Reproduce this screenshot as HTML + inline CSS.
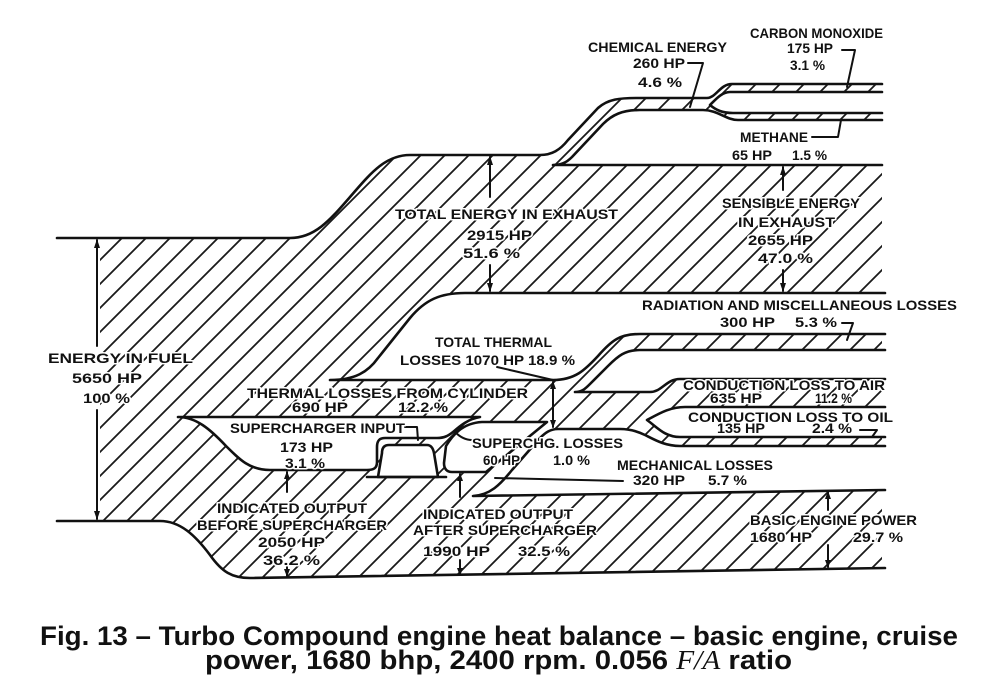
<!DOCTYPE html>
<html><head><meta charset="utf-8"><style>
html,body{margin:0;padding:0;background:#fff;}
svg{display:block;}
.t{font-family:"Liberation Sans",sans-serif;font-weight:bold;font-size:14px;fill:#111;stroke:#fff;stroke-width:3px;paint-order:stroke;stroke-linejoin:round;}
.c{font-family:"Liberation Sans",sans-serif;font-weight:bold;font-size:27px;fill:#111;}
.o{fill:none;stroke:#111;stroke-width:2.6;stroke-linejoin:round;stroke-linecap:round;}
.h{fill:#fff;stroke:#111;stroke-width:2.6;stroke-linejoin:round;stroke-linecap:round;}
.l{fill:none;stroke:#111;stroke-width:2;stroke-linecap:round;stroke-linejoin:round;}
.a{fill:#111;stroke:none;}
</style></head><body>
<svg width="1000" height="690" viewBox="0 0 1000 690" xmlns="http://www.w3.org/2000/svg">
<defs>
<pattern id="hatch" patternUnits="userSpaceOnUse" width="24" height="24">
<path d="M-6,6 L6,-6 M0,24 L24,0 M18,30 L30,18" stroke="#1a1a1a" stroke-width="1.8" fill="none"/>
</pattern>
</defs>
<rect width="1000" height="690" fill="#fff"/>

<!-- main hatched flow -->
<path fill="url(#hatch)" d="M100,238 L290,238 C315,238 330,220 350,197 C370,174 385,155 410,155 L540,155 C552,155 560,150 568,140 L598,108 C608,99 620,98 637,98 L707,98 C716,98 720,84 732,84 L882,84 L882,568 L250,578 C232,578 222,572 210,555 C195,535 180,521 160,521 L100,521 Z"/>

<!-- outer outlines -->
<path class="o" d="M57,238 L290,238 C315,238 330,220 350,197 C370,174 385,155 410,155 L540,155 C552,155 560,150 568,140 L598,108 C608,99 620,98 637,98 L707,98 C716,98 720,84 732,84 L882,84"/>
<path class="o" d="M57,521 L160,521 C180,521 195,535 210,555 C222,572 232,578 250,578 L885,568"/>

<!-- holes -->
<path class="h" d="M882,92 L730,92 C722,92 716,99 710,105 C716,110 722,113 733,113 L882,113"/>
<path class="h" d="M882,120 L738,120 C726,120 718,110 703,110 L640,110 C622,110 612,115 603,124 L572,157 C566,163 561,165 553,165 L882,165"/>
<path class="h" d="M885,293 L465,293 C440,293 425,300 410,318 L378,358 C368,372 355,380 330,380 L553,380 C575,380 585,370 598,356 C612,340 620,334 640,334 L885,334"/>
<path class="h" d="M885,350 L640,350 C625,350 618,356 608,366 L590,384 C585,389 582,392 575,392 L650,392 C662,392 666,379 680,379 L885,379"/>
<path class="h" d="M885,407 L685,407 C670,407 660,413 647,420 C658,428 665,437 680,437 L885,437"/>
<path class="h" d="M885,446 L680,446 C665,446 655,440 645,435 C637,431 630,429 620,429 L558,429 C550,429 545,433 540,438 L512,470 C500,485 490,495 473,496 L885,490"/>
<path class="h" d="M178,417 L480,417 C468,419 460,426 453,432 C448,436 444,438 437,438 L385,438 C379,438 377,441 377,447 L377,462 C377,468 374,470 367,470 L270,470 C250,470 240,460 226,446 C210,429 196,417 178,417 Z"/>
<path class="h" d="M446,446 C452,436 462,423 482,422 L547,422 L486,472 L452,472 C447,472 444,469 444,463 Z"/>
<path class="h" d="M378,477 L382,453 C382,448 384,445 389,445 L427,445 C431,445 433,448 434,453 L438,477 Z"/>
<path class="o" d="M367,477 L446,477"/>

<!-- dimension arrows -->
<g class="l">
<path d="M97,240 V346 M97,410 V519"/>
<path d="M490,157 V197 M490,265 V291"/>
<path d="M783,167 V190 M783,270 V291"/>
<path d="M553,382 V427"/>
<path d="M287,472 V492 M287,565 V576"/>
<path d="M460,474 V497 M460,560 V575"/>
<path d="M828,492 V510 M828,545 V567"/>
</g>
<g class="a">
<polygon points="97,239 94,248 100,248"/><polygon points="97,520 94,511 100,511"/>
<polygon points="490,156 487,165 493,165"/><polygon points="490,292 487,283 493,283"/>
<polygon points="783,166 780,175 786,175"/><polygon points="783,292 780,283 786,283"/>
<polygon points="553,381 550,389 556,389"/><polygon points="553,428 550,420 556,420"/>
<polygon points="287,471 284,479 290,479"/><polygon points="287,577 284,569 290,569"/>
<polygon points="460,473 457,481 463,481"/><polygon points="460,576 457,568 463,568"/>
<polygon points="828,491 825,499 831,499"/><polygon points="828,568 825,560 831,560"/>
</g>

<!-- leaders -->
<g class="l">
<path d="M842,50 L855,50 L847,87"/>
<path d="M688,63 L703,63 L690,107"/>
<path d="M812,137 L838,137 L841,120"/>
<path d="M842,323 L853,323 L847,340"/>
<path d="M497,367 L553,380"/>
<path d="M405,427 L417,427 L418,440"/>
<path d="M472,440 C465,440 460,437 455,432"/>
<path d="M495,478 L623,481"/>
<path d="M860,430 L877,430 L872,437"/>
</g>

<!-- labels -->
<g class="t">
<text x="750" y="38" textLength="133" lengthAdjust="spacingAndGlyphs">CARBON MONOXIDE</text>
<text x="787" y="53" textLength="46" lengthAdjust="spacingAndGlyphs">175 HP</text>
<text x="790" y="70" textLength="35" lengthAdjust="spacingAndGlyphs">3.1 %</text>
<text x="588" y="52" textLength="139" lengthAdjust="spacingAndGlyphs">CHEMICAL ENERGY</text>
<text x="633" y="68" textLength="52" lengthAdjust="spacingAndGlyphs">260 HP</text>
<text x="638" y="87" textLength="44" lengthAdjust="spacingAndGlyphs">4.6 %</text>
<text x="740" y="142" textLength="68" lengthAdjust="spacingAndGlyphs">METHANE</text>
<text x="732" y="160" textLength="40" lengthAdjust="spacingAndGlyphs">65 HP</text>
<text x="792" y="160" textLength="35" lengthAdjust="spacingAndGlyphs">1.5 %</text>
<text x="395" y="219" textLength="223" lengthAdjust="spacingAndGlyphs">TOTAL ENERGY IN EXHAUST</text>
<text x="467" y="240" textLength="65" lengthAdjust="spacingAndGlyphs">2915 HP</text>
<text x="463" y="258" textLength="57" lengthAdjust="spacingAndGlyphs">51.6 %</text>
<text x="722" y="208" textLength="138" lengthAdjust="spacingAndGlyphs">SENSIBLE ENERGY</text>
<text x="738" y="227" textLength="97" lengthAdjust="spacingAndGlyphs">IN EXHAUST</text>
<text x="748" y="245" textLength="65" lengthAdjust="spacingAndGlyphs">2655 HP</text>
<text x="758" y="263" textLength="55" lengthAdjust="spacingAndGlyphs">47.0 %</text>
<text x="642" y="310" textLength="315" lengthAdjust="spacingAndGlyphs">RADIATION AND MISCELLANEOUS LOSSES</text>
<text x="720" y="327" textLength="55" lengthAdjust="spacingAndGlyphs">300 HP</text>
<text x="795" y="327" textLength="42" lengthAdjust="spacingAndGlyphs">5.3 %</text>
<text x="435" y="347" textLength="117" lengthAdjust="spacingAndGlyphs">TOTAL THERMAL</text>
<text x="400" y="365" textLength="175" lengthAdjust="spacingAndGlyphs">LOSSES 1070 HP 18.9 %</text>
<text x="247" y="398" textLength="281" lengthAdjust="spacingAndGlyphs">THERMAL LOSSES FROM CYLINDER</text>
<text x="292" y="412" textLength="56" lengthAdjust="spacingAndGlyphs">690 HP</text>
<text x="398" y="412" textLength="50" lengthAdjust="spacingAndGlyphs">12.2 %</text>
<text x="230" y="433" textLength="175" lengthAdjust="spacingAndGlyphs">SUPERCHARGER INPUT</text>
<text x="280" y="452" textLength="53" lengthAdjust="spacingAndGlyphs">173 HP</text>
<text x="285" y="468" textLength="40" lengthAdjust="spacingAndGlyphs">3.1 %</text>
<text x="472" y="448" textLength="151" lengthAdjust="spacingAndGlyphs">SUPERCHG. LOSSES</text>
<text x="483" y="465" textLength="37" lengthAdjust="spacingAndGlyphs">60 HP</text>
<text x="553" y="465" textLength="37" lengthAdjust="spacingAndGlyphs">1.0 %</text>
<text x="617" y="470" textLength="156" lengthAdjust="spacingAndGlyphs">MECHANICAL LOSSES</text>
<text x="633" y="485" textLength="52" lengthAdjust="spacingAndGlyphs">320 HP</text>
<text x="708" y="485" textLength="39" lengthAdjust="spacingAndGlyphs">5.7 %</text>
<text x="683" y="390" textLength="202" lengthAdjust="spacingAndGlyphs">CONDUCTION LOSS TO AIR</text>
<text x="710" y="403" textLength="52" lengthAdjust="spacingAndGlyphs">635 HP</text>
<text x="815" y="403" textLength="37" lengthAdjust="spacingAndGlyphs">11.2 %</text>
<text x="688" y="422" textLength="205" lengthAdjust="spacingAndGlyphs">CONDUCTION LOSS TO OIL</text>
<text x="717" y="433" textLength="48" lengthAdjust="spacingAndGlyphs">135 HP</text>
<text x="812" y="433" textLength="40" lengthAdjust="spacingAndGlyphs">2.4 %</text>
<text x="750" y="525" textLength="167" lengthAdjust="spacingAndGlyphs">BASIC ENGINE POWER</text>
<text x="750" y="542" textLength="62" lengthAdjust="spacingAndGlyphs">1680 HP</text>
<text x="853" y="542" textLength="50" lengthAdjust="spacingAndGlyphs">29.7 %</text>
<text x="217" y="513" textLength="150" lengthAdjust="spacingAndGlyphs">INDICATED OUTPUT</text>
<text x="197" y="530" textLength="190" lengthAdjust="spacingAndGlyphs">BEFORE SUPERCHARGER</text>
<text x="258" y="547" textLength="67" lengthAdjust="spacingAndGlyphs">2050 HP</text>
<text x="263" y="565" textLength="57" lengthAdjust="spacingAndGlyphs">36.2 %</text>
<text x="423" y="519" textLength="150" lengthAdjust="spacingAndGlyphs">INDICATED OUTPUT</text>
<text x="413" y="535" textLength="184" lengthAdjust="spacingAndGlyphs">AFTER SUPERCHARGER</text>
<text x="423" y="556" textLength="67" lengthAdjust="spacingAndGlyphs">1990 HP</text>
<text x="518" y="556" textLength="52" lengthAdjust="spacingAndGlyphs">32.5 %</text>
<text x="48" y="363" textLength="145" lengthAdjust="spacingAndGlyphs">ENERGY IN FUEL</text>
<text x="72" y="383" textLength="70" lengthAdjust="spacingAndGlyphs">5650 HP</text>
<text x="83" y="403" textLength="47" lengthAdjust="spacingAndGlyphs">100 %</text>
</g>

<!-- caption -->
<text class="c" x="40" y="645" textLength="918" lengthAdjust="spacingAndGlyphs">Fig. 13 – Turbo Compound engine heat balance – basic engine, cruise</text>
<text class="c" x="205" y="669" textLength="587" lengthAdjust="spacingAndGlyphs">power, 1680 bhp, 2400 rpm. 0.056 <tspan font-family="Liberation Serif, serif" font-style="italic" font-weight="normal">F/A</tspan> ratio</text>
</svg>
</body></html>
